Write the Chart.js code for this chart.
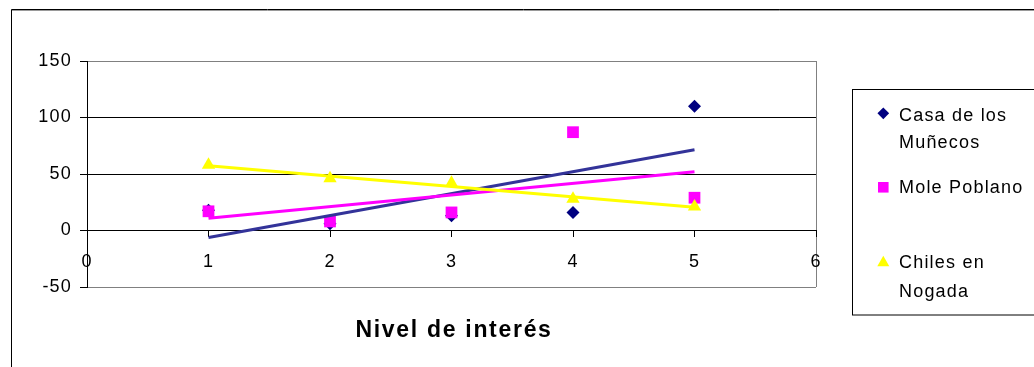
<!DOCTYPE html>
<html>
<head>
<meta charset="utf-8">
<script src="https://cdn.jsdelivr.net/npm/chart.js@4/dist/chart.umd.min.js"></script>
<style>
  html, body { margin: 0; padding: 0; background: #fff; }
  #wrap { width: 1034px; height: 367px; position: relative; }
</style>
</head>
<body>
<div id="wrap"><canvas id="c" width="1034" height="367"></canvas></div>
<script>
// Interest level (x) and the answers for each dish
const niveles = [1, 2, 3, 4, 5];
const casaDeLosMunecos = [18, 6, 13, 16, 110];
const molePoblano = [17, 8, 16, 87, 29];
const chilesEnNogada = [58, 46, 42, 28, 21];

const seriesNames = ['Casa de los Muñecos', 'Mole Poblano', 'Chiles en Nogada'];
const legendLines = [['Casa de los', 'Muñecos'], ['Mole Poblano'], ['Chiles en', 'Nogada']];
const xTicks = [0, 1, 2, 3, 4, 5, 6];
const yTicks = [-50, 0, 50, 100, 150];
const axisTitle = 'Nivel de interés';

const FONT = "'Liberation Sans', Arial, sans-serif";

// Least-squares line over the data's x range
function linearTrend(xs, ys) {
  const n = xs.length;
  const mx = xs.reduce((a, b) => a + b, 0) / n;
  const my = ys.reduce((a, b) => a + b, 0) / n;
  let sxy = 0, sxx = 0;
  for (let i = 0; i < n; i++) {
    sxy += (xs[i] - mx) * (ys[i] - my);
    sxx += (xs[i] - mx) * (xs[i] - mx);
  }
  const slope = sxy / sxx, icpt = my - slope * mx;
  const x0 = Math.min(...xs), x1 = Math.max(...xs);
  return [{ x: x0, y: icpt + slope * x0 }, { x: x1, y: icpt + slope * x1 }];
}

const pts = ys => niveles.map((x, i) => ({ x, y: ys[i] }));

const markerStyles = [
  { pointStyle: 'rectRot', radius: 6.5, color: '#000080' },
  { pointStyle: 'rect', radius: 8.3, color: '#FF00FF' },
  { pointStyle: 'triangle', radius: 7.7, color: '#FFFF00' }
];

const scatterSet = (label, ys, m, order) => ({
  type: 'scatter', label, data: pts(ys), order,
  pointStyle: m.pointStyle, pointRadius: m.radius, pointHoverRadius: m.radius,
  backgroundColor: m.color, borderColor: m.color, pointBorderWidth: 0, showLine: false
});
const trendSet = (ys, color, order) => ({
  type: 'line', data: linearTrend(niveles, ys), order,
  borderColor: color, borderWidth: 3, pointRadius: 0, fill: false, tension: 0
});

// Outer frame, legend box and axis title
const decorations = {
  id: 'decorations',
  beforeLayout(chart) { chart.ctx.letterSpacing = '1.2px'; },
  beforeDraw(chart) {
    const ctx = chart.ctx;
    ctx.save();
    ctx.fillStyle = '#fff';
    ctx.fillRect(0, 0, chart.width, chart.height);
    ctx.lineWidth = 1;
    ctx.strokeStyle = '#000';
    ctx.beginPath();
    ctx.moveTo(11.5, chart.height + 2);
    ctx.lineTo(11.5, 9.5);
    ctx.lineTo(chart.width + 2, 9.5);
    ctx.stroke();
    ctx.strokeStyle = '#9a9a9a';
    ctx.beginPath();
    ctx.moveTo(12, 10.5);
    ctx.lineTo(chart.width + 2, 10.5);
    ctx.stroke();
    ctx.restore();
    ctx.letterSpacing = '1.2px';
  },
  afterDraw(chart) {
    const ctx = chart.ctx;
    ctx.save();
    // legend box
    ctx.strokeStyle = '#000';
    ctx.lineWidth = 1;
    ctx.strokeRect(852.5, 89.5, 200, 225.5);
    const markerY = [113.3, 187.3, 262.7];
    const baselines = [[120.7, 148.3], [193.3], [268, 296.7]];
    ctx.font = '18px ' + FONT;
    ctx.letterSpacing = '1.2px';
    ctx.textBaseline = 'alphabetic';
    ctx.textAlign = 'left';
    markerStyles.forEach((m, i) => {
      ctx.fillStyle = m.color;
      ctx.strokeStyle = m.color;
      Chart.helpers.drawPoint(ctx, { pointStyle: m.pointStyle, radius: m.radius * 0.9, rotation: 0, borderWidth: 0 }, 883.3, markerY[i]);
      ctx.fillStyle = '#000';
      legendLines[i].forEach((t, j) => ctx.fillText(t, 899, baselines[i][j]));
    });
    // x-axis title
    ctx.font = 'bold 23px ' + FONT;
    ctx.letterSpacing = '1.7px';
    ctx.textAlign = 'center';
    ctx.fillStyle = '#000';
    ctx.fillText(axisTitle, 454, 337);
    ctx.restore();
  }
};

new Chart(document.getElementById('c'), {
  data: {
    datasets: [
      scatterSet(seriesNames[0], casaDeLosMunecos, markerStyles[0], 5),
      scatterSet(seriesNames[1], molePoblano, markerStyles[1], 4),
      scatterSet(seriesNames[2], chilesEnNogada, markerStyles[2], 3),
      trendSet(casaDeLosMunecos, '#333399', 2),
      trendSet(molePoblano, '#FF00FF', 1),
      trendSet(chilesEnNogada, '#FFFF00', 0)
    ]
  },
  options: {
    responsive: false,
    animation: false,
    devicePixelRatio: 1,
    layout: { padding: { left: 0, top: 61, right: 218, bottom: 80 } },
    plugins: { legend: { display: false }, tooltip: { enabled: false }, title: { display: false } },
    scales: {
      x: {
        type: 'linear',
        position: { y: 0 },
        min: 0, max: 6,
        afterBuildTicks: s => { s.ticks = xTicks.map(v => ({ value: v })); },
        ticks: { color: '#000', font: { family: FONT, size: 18 }, padding: 15, maxRotation: 0, autoSkip: false },
        grid: {
          drawOnChartArea: true,
          color: c => (c.tick && c.tick.value === 6) ? '#808080' : 'rgba(0,0,0,0)',
          tickColor: '#000', tickLength: 6, lineWidth: 1
        },
        border: { display: true, color: '#000', width: 1 }
      },
      y: {
        type: 'linear',
        position: 'left',
        min: -50, max: 150,
        afterBuildTicks: s => { s.ticks = yTicks.map(v => ({ value: v })); },
        afterFit: s => { s.width = 87; },
        ticks: { color: '#000', font: { family: FONT, size: 18 }, padding: 8 },
        grid: {
          color: c => (c.tick && (c.tick.value === 150 || c.tick.value === -50)) ? '#808080' : '#000',
          tickColor: '#000', tickLength: 7, lineWidth: 1
        },
        border: { display: true, color: '#000', width: 1 }
      }
    }
  },
  plugins: [decorations]
});
</script>
</body>
</html>
